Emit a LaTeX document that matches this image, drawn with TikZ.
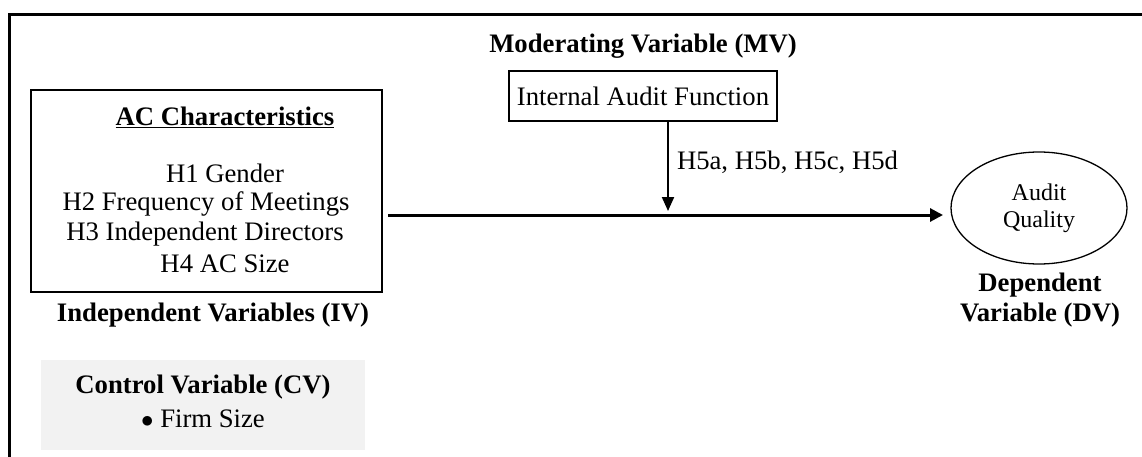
\documentclass[tikz,border=0pt]{standalone}
\usepackage{fontspec}
\setmainfont{Liberation Serif}
\usetikzlibrary{arrows.meta,shapes.geometric}
\definecolor{cvgray}{HTML}{F2F2F2}
\tikzset{
  txt/.style={inner sep=0pt, font=\fontsize{26.7}{30}\selectfont},
  hdr/.style={inner sep=0pt, font=\fontsize{26.7}{30}\selectfont\bfseries, align=center},
  plainbox/.style={draw, line width=1.2pt, inner sep=0pt},
  link/.style={line width=3pt, -{Triangle[width=13pt,length=13pt]}},
}
\begin{document}
\begin{tikzpicture}[x=1pt,y=-1pt]
  \useasboundingbox (0,0) rectangle (1142,457);
  \draw[line width=3pt] (9,457) -- (9,15) -- (1142,15);
  % independent variables
  \node[plainbox, minimum width=351pt, minimum height=202pt] (ac) at (206.5,191) {};
  \node[hdr] (actitle) at (225,117) {\underline{AC Characteristics}};
  \node[txt] (h1) at (225,173) {H1 Gender};
  \node[txt] (h2) at (206,204) {H2 Frequency of Meetings};
  \node[txt] (h3) at (205,234) {H3 Independent Directors};
  \node[txt] (h4) at (225,264) {H4 AC Size};
  \node[hdr] (iv) at (213,315) {Independent Variables (IV)};
  % control variable
  \node[fill=cvgray, minimum width=324pt, minimum height=90pt, inner sep=0pt] (cv) at (203,405) {};
  \node[hdr] (cvtitle) at (203,387) {Control Variable (CV)};
  \node[txt] (firm) at (203,419) {$\bullet$ Firm Size};
  % moderator
  \node[hdr] (mv) at (643,46) {Moderating Variable (MV)};
  \node[plainbox, minimum width=268pt, minimum height=50pt, txt] (iaf) at (643,96) {Internal Audit Function};
  % dependent variable
  \node[draw, ellipse, line width=1.3pt, minimum width=176pt, minimum height=112pt,
        inner sep=0pt, align=center, font=\fontsize{24}{27}\selectfont] (aq) at (1039,208) {Audit\\Quality};
  \node[hdr] (dv) at (1040,300) {Dependent\\Variable (DV)};
  \coordinate (src) at (388,215);
  \coordinate (tip) at (943,215);
  \coordinate (mid) at (668,211);
  \draw[link] (src) -- (tip);
  \draw[line width=2pt, -{Triangle[width=12pt,length=14pt]}] (iaf.south -| mid) -- (mid)
    node[pos=0.45, right=8pt, txt] (h5) {H5a, H5b, H5c, H5d};
\end{tikzpicture}
\end{document}
